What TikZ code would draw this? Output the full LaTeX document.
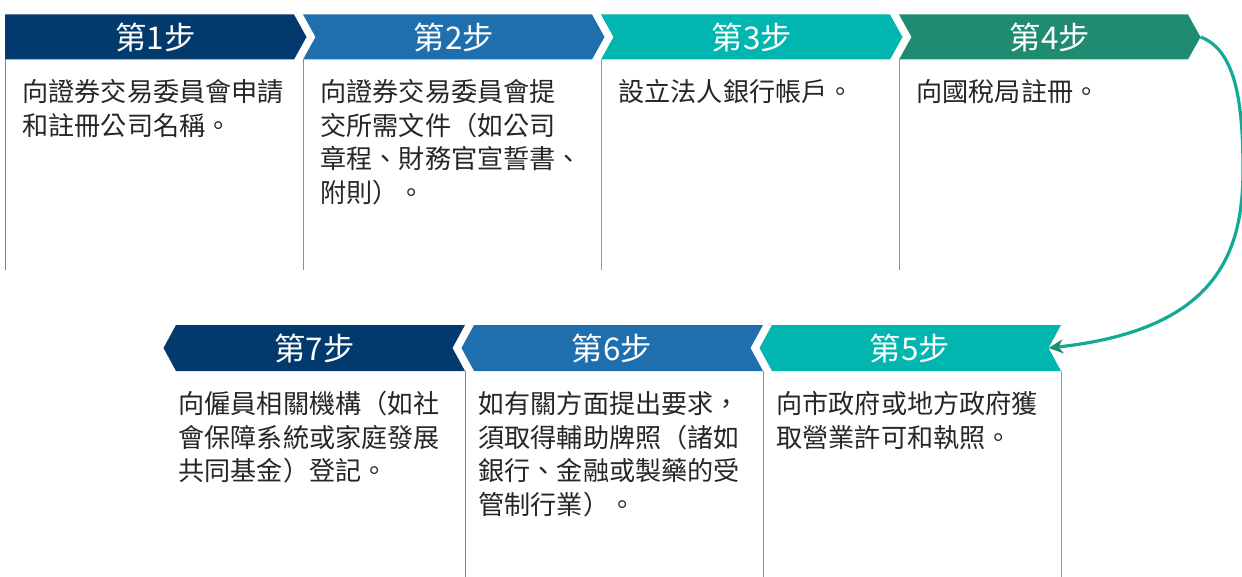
\documentclass[tikz,border=0pt]{standalone}
\usepackage{fontspec}
\setmainfont{Noto Sans CJK TC}
\usetikzlibrary{arrows.meta}

\definecolor{stepnavy}{HTML}{023A6E}
\definecolor{stepblue}{HTML}{1F6FAE}
\definecolor{stepteal}{HTML}{00B6AE}
\definecolor{stepgreen}{HTML}{1F8C72}
\definecolor{flowline}{HTML}{14A994}

\tikzset{every picture/.style={line width=0.75pt}}
\tikzset{
  head/.style={text=white, inner sep=0.75pt, font=\fontsize{23.5pt}{27pt}\selectfont},
  body/.style={anchor=north west, inner sep=0pt, align=left, text=black!85, font=\fontsize{19.6pt}{25.1pt}\selectfont},
}

\begin{document}
\begin{tikzpicture}[x=0.75pt,y=0.75pt,yscale=-1,xscale=1]
        \useasboundingbox (0,0) rectangle (1242,577);

        %Shape: Chevron 1
        \fill [stepnavy]  (5,14.5) -- (294,14.5) -- (306.5,37) -- (294,59.5) -- (5,59.5) -- cycle ;
        %Shape: Chevron 2
        \fill [stepblue]  (303,14.5) -- (592,14.5) -- (604.5,37) -- (592,59.5) -- (303,59.5) -- (315.5,37) -- cycle ;
        %Shape: Chevron 3
        \fill [stepteal]  (601,14.5) -- (890,14.5) -- (902.5,37) -- (890,59.5) -- (601,59.5) -- (613.5,37) -- cycle ;
        %Shape: Chevron 4
        \fill [stepgreen] (899,14.5) -- (1188,14.5) -- (1200.5,37) -- (1188,59.5) -- (899,59.5) -- (911.5,37) -- cycle ;
        %Shape: Chevron 5
        \fill [stepteal]  (1061,325) -- (772,325) -- (759.5,348) -- (772,371) -- (1061,371) -- (1048.5,348) -- cycle ;
        %Shape: Chevron 6
        \fill [stepblue]  (763,325) -- (474,325) -- (461.5,348) -- (474,371) -- (763,371) -- (750.5,348) -- cycle ;
        %Shape: Chevron 7
        \fill [stepnavy]  (465,325) -- (176,325) -- (163.5,348) -- (176,371) -- (465,371) -- (452.5,348) -- cycle ;

        %Straight Lines
        \draw [stepnavy!60]  (5,59.5) -- (5,270) ;
        \draw [stepblue!70]  (303.5,59.5) -- (303.5,270) ;
        \draw [stepteal!80]  (601,59.5) -- (601,270) ;
        \draw [stepgreen!70] (899,59.5) -- (899,270) ;
        \draw [stepteal!80]  (1061,371) -- (1061,577) ;
        \draw [stepblue!70]  (763,371) -- (763,577) ;
        \draw [stepnavy!60]  (465,371) -- (465,577) ;

        % Text Node
        \node [head] (h1) at (155.5,37) {第1步};
        \node [head] (h2) at (454,37) {第2步};
        \node [head] (h3) at (752,37) {第3步};
        \node [head] (h4) at (1050,37) {第4步};
        \node [head] (h5) at (910,348) {第5步};
        \node [head] (h6) at (612,348) {第6步};
        \node [head] (h7) at (314.5,348) {第7步};

        % Text Node
        \node [body] (t1) at (22,79) {向證券交易委員會申請\\和註冊公司名稱。};
        \node [body] (t2) at (320,79) {向證券交易委員會提\\交所需文件（如公司\\章程、財務官宣誓書、\\附則）。};
        \node [body] (t3) at (618,79) {設立法人銀行帳戶。};
        \node [body] (t4) at (916,79) {向國稅局註冊。};
        \node [body] (t5) at (776,391) {向市政府或地方政府獲\\取營業許可和執照。};
        \node [body] (t6) at (478,391) {如有關方面提出要求，\\須取得輔助牌照（諸如\\銀行、金融或製藥的受\\管制行業）。};
        \node [body] (t7) at (178,391) {向僱員相關機構（如社\\會保障系統或家庭發展\\共同基金）登記。};

        %Curve Lines
        \coordinate (c4) at (1200.5,37);
        \coordinate (c5) at (1048.5,348);
        \draw [flowline, line width=2.4pt, -{Stealth[length=11pt, width=10.5pt, color=stepgreen]}]
            (c4) .. controls (1235,50) and (1243,100) .. (1243,170) .. controls (1243,255) and (1215,330) .. (c5) ;

\end{tikzpicture}
\end{document}
